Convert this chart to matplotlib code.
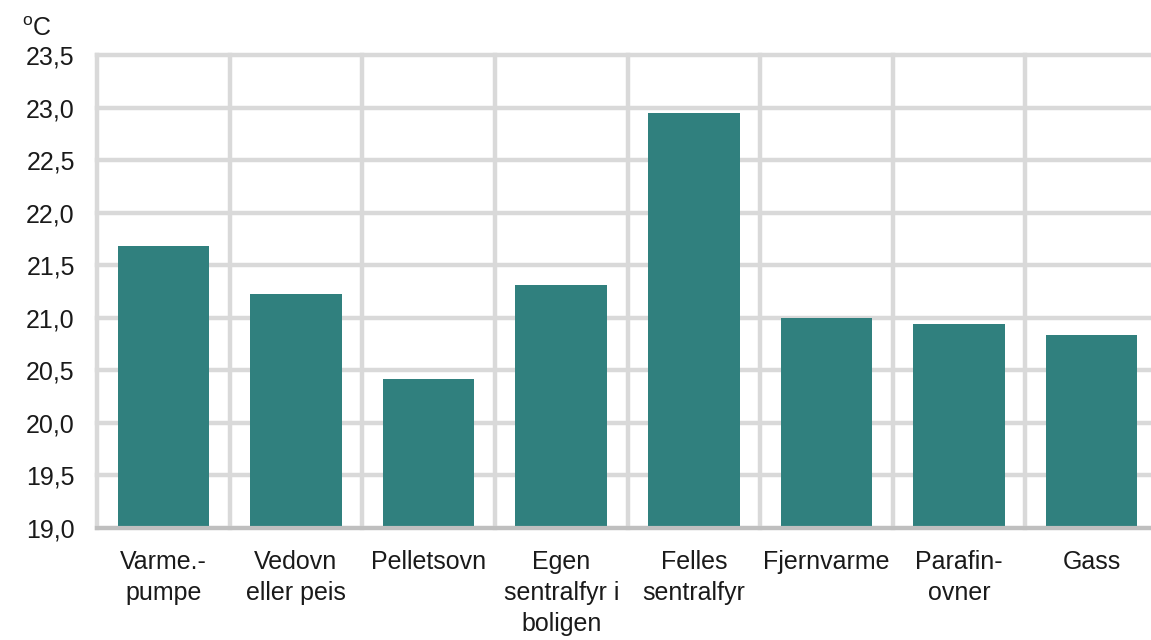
import matplotlib
matplotlib.use("Agg")
import matplotlib.pyplot as plt
import numpy as np

categories = ["Varme.-\npumpe", "Vedovn\neller peis", "Pelletsovn",
              "Egen\nsentralfyr i\nboligen", "Felles\nsentralfyr",
              "Fjernvarme", "Parafin-\novner", "Gass"]
temperatures = [21.68, 21.23, 20.42, 21.31, 22.95, 21.0, 20.94, 20.84]
y_ticks = [19.0, 19.5, 20.0, 20.5, 21.0, 21.5, 22.0, 22.5, 23.0, 23.5]
y_tick_labels = ["19,0", "19,5", "20,0", "20,5", "21,0", "21,5",
                 "22,0", "22,5", "23,0", "23,5"]

plt.rcParams['font.family'] = ['Liberation Sans', 'DejaVu Sans']
plt.rcParams['mathtext.fontset'] = 'custom'
plt.rcParams['mathtext.rm'] = 'Liberation Sans'

fig = plt.figure(figsize=(11.51, 6.40), dpi=100)
ax = fig.add_axes([97 / 1151, 112 / 640, 1061 / 1151, 473 / 640])

x = np.arange(len(categories))
ax.bar(x, temperatures, width=0.69, color="#30807e", zorder=3)

ax.set_xlim(-0.5, len(categories) - 0.5)
ax.set_ylim(19.0, 23.5)
ax.set_yticks(y_ticks)
ax.set_yticklabels(y_tick_labels)
ax.set_xticks(x)
ax.set_xticklabels(categories, linespacing=1.37)
ax.set_xticks(np.arange(len(categories) + 1) - 0.5, minor=True)

grid_color = "#d9d9d9"
ax.grid(axis="y", which="major", color=grid_color, linewidth=3.2, zorder=1)
ax.grid(axis="x", which="minor", color=grid_color, linewidth=3.2, zorder=1)
ax.set_axisbelow(True)
for tick in ax.yaxis.get_major_ticks() + ax.xaxis.get_minor_ticks():
    tick.gridline.set_clip_on(False)

ax.tick_params(axis="both", which="both", length=0)
ax.tick_params(axis="y", labelsize=18, pad=16, colors="#1a1a1a")
ax.tick_params(axis="x", labelsize=18, pad=16, colors="#1a1a1a")

for side in ["top", "right", "left"]:
    ax.spines[side].set_visible(False)
ax.spines["bottom"].set_color("#bfbfbf")
ax.spines["bottom"].set_linewidth(3)
ax.spines["bottom"].set_zorder(4)

fig.text(22 / 1151, 1 - 36 / 640, r"$^{\rm o}$C", fontsize=18, color="#1a1a1a",
         ha="left", va="baseline")

fig.savefig("out.png", dpi=100)
